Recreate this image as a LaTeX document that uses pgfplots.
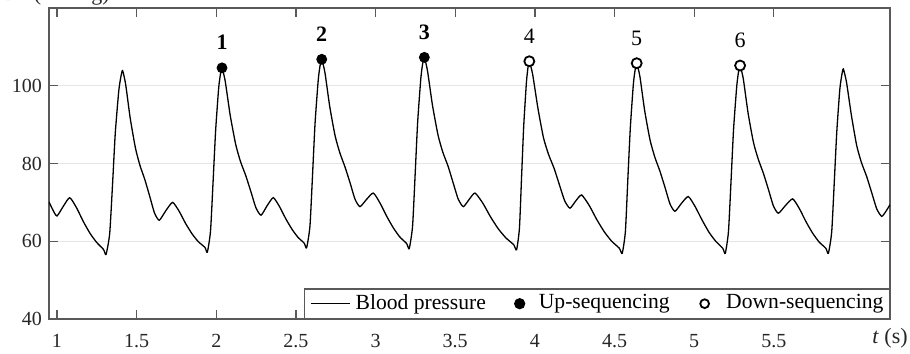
\documentclass[border=0pt]{standalone}
\usepackage{pgfplots}
\pgfplotsset{compat=1.18}
\usepackage{fontspec}
\setmainfont{Liberation Serif}
\definecolor{axgray}{gray}{0.35}
\definecolor{gridgray}{gray}{0.9}
\definecolor{txtgray}{gray}{0.15}

\pgfplotstableread{
t p
0.950 70.1
0.975 68.0
1.000 66.5
1.040 69.0
1.080 71.2
1.123 68.6
1.165 65.1
1.208 62.0
1.249 59.7
1.292 57.9
1.308 56.6
1.331 62.0
1.350 75.5
1.366 87.8
1.388 98.7
1.402 102.5
1.412 103.9
1.431 100.4
1.460 91.6
1.493 83.9
1.521 79.5
1.552 75.8
1.582 71.6
1.612 67.3
1.642 65.4
1.684 67.9
1.726 70.0
1.767 67.7
1.807 64.6
1.848 61.9
1.887 59.9
1.929 58.4
1.944 57.2
1.964 62.7
1.981 76.2
1.996 88.5
2.015 99.4
2.027 103.2
2.036 104.6
2.056 101.2
2.087 92.5
2.122 84.9
2.152 80.5
2.185 76.9
2.217 72.8
2.249 68.6
2.281 66.7
2.320 69.2
2.358 71.2
2.397 68.9
2.436 65.8
2.475 63.1
2.513 61.0
2.552 59.5
2.567 58.3
2.588 63.9
2.605 77.7
2.620 90.3
2.640 101.5
2.652 105.3
2.662 106.8
2.682 103.4
2.712 94.7
2.746 87.1
2.776 82.7
2.808 79.1
2.840 75.0
2.871 70.8
2.902 68.9
2.944 70.8
2.986 72.4
3.028 69.8
3.070 66.4
3.112 63.4
3.152 61.1
3.195 59.4
3.211 58.1
3.232 63.8
3.249 77.8
3.264 90.6
3.284 101.9
3.296 105.8
3.306 107.3
3.326 103.8
3.357 95.0
3.392 87.3
3.422 82.9
3.455 79.3
3.487 75.0
3.519 70.8
3.551 68.9
3.588 70.8
3.624 72.4
3.673 69.8
3.721 66.3
3.770 63.2
3.817 60.9
3.867 59.1
3.885 57.8
3.903 63.4
3.917 77.2
3.930 89.8
3.947 101.0
3.957 104.8
3.965 106.3
3.986 102.9
4.019 94.2
4.054 86.6
4.086 82.3
4.121 78.7
4.154 74.5
4.187 70.4
4.220 68.5
4.257 70.4
4.293 71.9
4.341 69.2
4.388 65.6
4.436 62.4
4.482 60.0
4.530 58.2
4.548 56.9
4.568 62.5
4.584 76.5
4.599 89.2
4.618 100.4
4.630 104.3
4.639 105.8
4.659 102.4
4.689 93.6
4.723 86.0
4.753 81.6
4.785 78.0
4.817 73.8
4.848 69.6
4.879 67.7
4.921 69.8
4.963 71.5
5.006 68.9
5.050 65.4
5.093 62.3
5.135 60.0
5.179 58.2
5.195 56.9
5.215 62.5
5.232 76.2
5.247 88.8
5.267 99.9
5.279 103.8
5.288 105.2
5.308 101.8
5.338 93.0
5.372 85.4
5.402 81.1
5.434 77.5
5.466 73.3
5.497 69.1
5.528 67.2
5.573 69.2
5.618 70.9
5.660 68.4
5.702 65.0
5.743 62.1
5.784 59.8
5.826 58.2
5.842 56.9
5.863 62.4
5.880 75.9
5.895 88.2
5.914 99.1
5.927 102.9
5.936 104.3
5.956 100.9
5.987 92.3
6.020 84.6
6.050 80.2
6.083 76.6
6.114 72.5
6.146 68.3
6.177 66.4
6.205 67.8
6.229 69.4
}\bp

\pgfplotstableread{
t p lab
2.036 104.6 1
2.662 106.8 2
3.306 107.3 3
}\up

\pgfplotstableread{
t p lab
3.965 106.3 4
4.639 105.8 5
5.288 105.2 6
}\down

\begin{document}
\begin{tikzpicture}
\begin{axis}[
  scale only axis, width=420.5pt, height=155.5pt,
  xmin=0.95, xmax=6.229, ymin=40, ymax=120,
  xtick={1,1.5,2,2.5,3,3.5,4,4.5,5,5.5},
  ytick={40,60,80,100},
  ymajorgrids, major grid style={gridgray, line width=0.6pt},
  tick align=inside, major tick length=4.3pt,
  axis line style={axgray, line width=0.6pt},
  tick style={axgray, line width=0.6pt},
  /pgf/number format/assume math mode=true,
  every tick label/.append style={font=\fontsize{10}{12}\selectfont, text=txtgray},
  xticklabel style={yshift=-4pt},
  legend columns=3,
  legend style={at={(1,0)}, anchor=south east, draw=axgray, line width=0.6pt,
    inner xsep=3pt, inner ysep=2.6pt,
    nodes={inner sep=0pt, text depth=0.2em},
    font=\fontsize{10.8}{13}\selectfont, text=black},
]
\addplot[black, line width=0.65pt, smooth, tension=0.35,
  legend image code/.code={\path[draw=none, fill=none] (0pt,-4pt) rectangle (22.5pt,4pt); \draw[black, line width=0.6pt] (0pt,0pt) -- (19.5pt,0pt);}]
  table[x=t, y=p] {\bp};
\addlegendentry{Blood pressure}
\addplot[only marks, mark=*, mark size=2.5pt, black, mark options={fill=black},
  point meta=explicit symbolic,
  nodes near coords={\textbf{\pgfplotspointmeta}},
  every node near coord/.append style={anchor=base, yshift=9pt, inner sep=0pt, font=\fontsize{11}{13}\selectfont, text=black},
  legend image code/.code={\path[draw=none, fill=none] (-16.9pt,0pt) rectangle (9.6pt,0pt); \fill[black] (0pt,0pt) circle (2.5pt);}]
  table[x=t, y=p, meta=lab] {\up};
\addlegendentry{Up-sequencing}
\addplot[only marks, mark=*, mark size=2.5pt, black, mark options={fill=white, line width=0.9pt},
  point meta=explicit symbolic,
  nodes near coords={\pgfplotspointmeta},
  every node near coord/.append style={anchor=base, yshift=9pt, inner sep=0pt, font=\fontsize{11}{13}\selectfont, text=black},
  legend image code/.code={\path[draw=none, fill=none] (-17.5pt,0pt) rectangle (10.8pt,0pt); \draw[black, fill=white, line width=0.9pt] (0pt,0pt) circle (2.2pt);}]
  table[x=t, y=p, meta=lab] {\down};
\addlegendentry{Down-sequencing}
\coordinate (SW) at (rel axis cs:0,0);
\coordinate (NE) at (rel axis cs:1,1);
\coordinate (SE) at (rel axis cs:1,0);
\coordinate (NW) at (rel axis cs:0,1);
\end{axis}
\node[anchor=base, font=\fontsize{11}{13}\selectfont, text=txtgray, inner sep=0pt] at ([yshift=-12.3pt]SE) {\textit{t} (s)};
\node[anchor=base east, font=\fontsize{11}{13}\selectfont, text=txtgray, inner sep=0pt] at ([xshift=30.5pt, yshift=3.5pt]NW) {BP (mmHg)};
\pgfresetboundingbox
\path[use as bounding box] ([shift={(-24.5pt,-17.5pt)}]SW) rectangle ([shift={(10pt,4pt)}]NE);
\end{tikzpicture}
\end{document}
